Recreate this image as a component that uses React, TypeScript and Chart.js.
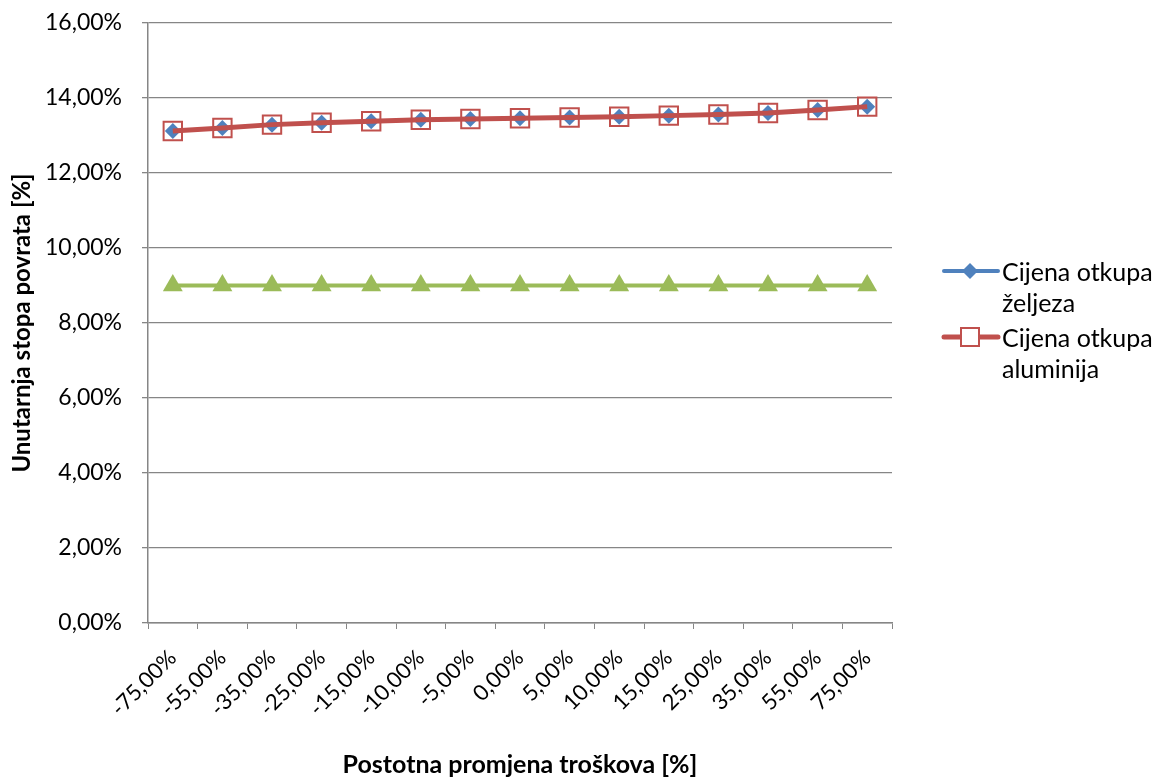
import React, { useEffect, useRef } from "react";
import { Chart, registerables } from "chart.js";

Chart.register(...registerables);

const categories: string[] = [
  "-75,00%", "-55,00%", "-35,00%", "-25,00%", "-15,00%", "-10,00%", "-5,00%",
  "0,00%", "5,00%", "10,00%", "15,00%", "25,00%", "35,00%", "55,00%", "75,00%",
];

const zeljezoValues: number[] = [
  13.12, 13.2, 13.29, 13.34, 13.38, 13.42, 13.44, 13.46, 13.48, 13.5, 13.53, 13.56, 13.6, 13.68, 13.77,
];

const aluminijValues: number[] = [
  13.12, 13.2, 13.29, 13.34, 13.38, 13.42, 13.44, 13.46, 13.48, 13.5, 13.53, 13.56, 13.6, 13.68, 13.77,
];

const diskontnaValues: number[] = [
  9, 9, 9, 9, 9, 9, 9, 9, 9, 9, 9, 9, 9, 9, 9,
];

const seriesNames: string[] = ["Cijena otkupa željeza", "Cijena otkupa aluminija", "Diskontna stopa"];
const legendLines: string[][] = [["Cijena otkupa", "željeza"], ["Cijena otkupa", "aluminija"]];

const xTitle = "Postotna promjena troškova [%]";
const yTitle = "Unutarnja stopa povrata [%]";

const BLUE = "#4F81BD";
const RED = "#C0504D";
const GREEN = "#9BBB59";
const GRID = "#868686";
const FONT = "Lato, 'Open Sans', sans-serif";

const legendPlugin = {
  id: "customLegend",
  afterDraw(chart: any) {
    const ctx = chart.ctx as CanvasRenderingContext2D;
    const x0 = 944, x1 = 998, mx = 970, tx = 1002;
    const ys = [271, 337];
    ctx.save();
    // entry 1
    ctx.strokeStyle = BLUE;
    ctx.lineWidth = 4;
    ctx.lineCap = "round";
    ctx.beginPath();
    ctx.moveTo(x0, ys[0]);
    ctx.lineTo(x1, ys[0]);
    ctx.stroke();
    ctx.fillStyle = BLUE;
    ctx.beginPath();
    ctx.moveTo(mx, ys[0] - 8);
    ctx.lineTo(mx + 8, ys[0]);
    ctx.lineTo(mx, ys[0] + 8);
    ctx.lineTo(mx - 8, ys[0]);
    ctx.closePath();
    ctx.fill();
    // entry 2
    ctx.strokeStyle = RED;
    ctx.lineWidth = 5;
    ctx.beginPath();
    ctx.moveTo(x0, ys[1]);
    ctx.lineTo(x1, ys[1]);
    ctx.stroke();
    ctx.fillStyle = "#ffffff";
    ctx.lineWidth = 2;
    ctx.fillRect(mx - 9, ys[1] - 9, 18, 18);
    ctx.strokeRect(mx - 9, ys[1] - 9, 18, 18);
    // text
    ctx.fillStyle = "#000000";
    ctx.font = `25px ${FONT}`;
    ctx.textAlign = "left";
    ctx.textBaseline = "middle";
    legendLines.forEach((lines, i) => {
      lines.forEach((t, j) => {
        ctx.fillText(t, tx, ys[i] + 2 + j * 31);
      });
    });
    ctx.restore();
  },
};

export default function App() {
  const canvasRef = useRef<HTMLCanvasElement | null>(null);

  useEffect(() => {
    if (!canvasRef.current) return;
    const chart = new Chart(canvasRef.current, {
      type: "line",
      data: {
        labels: categories,
        datasets: [
          {
            label: seriesNames[0],
            data: zeljezoValues,
            borderColor: BLUE,
            backgroundColor: BLUE,
            borderWidth: 3,
            pointStyle: "rectRot",
            pointRadius: 8,
            pointHoverRadius: 8,
            pointBackgroundColor: BLUE,
            pointBorderColor: BLUE,
            pointBorderWidth: 0,
            tension: 0,
            order: 2,
          },
          {
            label: seriesNames[1],
            data: aluminijValues,
            borderColor: RED,
            backgroundColor: RED,
            borderWidth: 5,
            pointStyle: "rect",
            pointRadius: 13,
            pointHoverRadius: 13,
            pointBackgroundColor: "rgba(0,0,0,0)",
            pointBorderColor: RED,
            pointBorderWidth: 2,
            tension: 0,
            order: 1,
          },
          {
            label: seriesNames[2],
            data: diskontnaValues,
            borderColor: GREEN,
            backgroundColor: GREEN,
            borderWidth: 4,
            pointStyle: "triangle",
            pointRadius: 11.5,
            pointHoverRadius: 11.5,
            pointBackgroundColor: GREEN,
            pointBorderColor: GREEN,
            pointBorderWidth: 0,
            tension: 0,
            order: 3,
          },
        ],
      },
      options: {
        responsive: false,
        animation: false,
        devicePixelRatio: 1,
        layout: { padding: { top: 23, right: 261, left: 0, bottom: 0 } },
        plugins: {
          legend: { display: false },
          tooltip: { enabled: false },
        },
        scales: {
          x: {
            type: "category",
            offset: true,
            grid: {
              display: true,
              drawOnChartArea: false,
              drawTicks: true,
              tickLength: 6,
              offset: true,
              color: GRID,
            },
            border: { display: true, color: GRID, width: 1.5 },
            ticks: {
              autoSkip: false,
              minRotation: 45,
              maxRotation: 45,
              padding: 16,
              color: "#000",
              font: { family: FONT, size: 22 },
            },
            title: {
              display: true,
              text: xTitle,
              color: "#000",
              font: { family: FONT, size: 25, weight: "bold" },
              padding: { top: 0, bottom: 0 },
            },
            afterFit(scale: any) {
              scale.height = 157;
            },
          },
          y: {
            min: 0,
            max: 16,
            ticks: {
              stepSize: 2,
              padding: 20,
              color: "#000",
              font: { family: FONT, size: 23 },
              callback: (v: any) => Number(v).toFixed(2).replace(".", ",") + "%",
            },
            grid: {
              color: GRID,
              lineWidth: 1.3,
              drawTicks: true,
              tickLength: 6,
            },
            border: { display: true, color: GRID, width: 1.5 },
            title: {
              display: true,
              text: yTitle,
              color: "#000",
              font: { family: FONT, size: 24, weight: "bold" },
              padding: { top: 8, bottom: 0 },
            },
            afterFit(scale: any) {
              scale.width = 148;
              scale.paddingTop = 0;
              scale.paddingBottom = 0;
            },
          },
        },
      },
      plugins: [legendPlugin],
    });
    return () => chart.destroy();
  }, []);

  return (
    <div style={{ position: "absolute", left: 0, top: 0, width: 1153, height: 780, background: "#fff" }}>
      <canvas ref={canvasRef} width={1153} height={780} style={{ width: 1153, height: 780 }} />
    </div>
  );
}
